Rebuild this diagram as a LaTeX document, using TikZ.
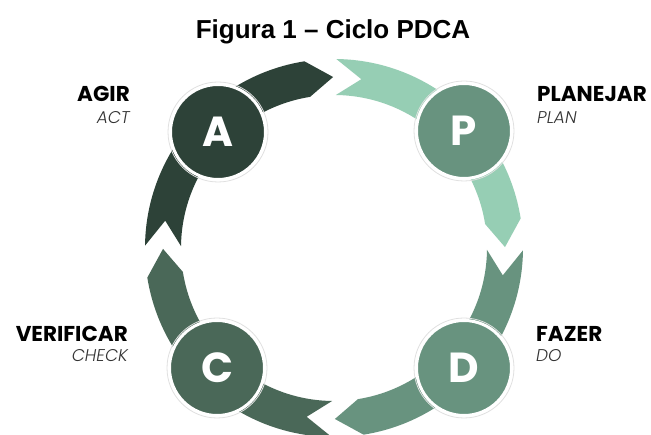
\documentclass[tikz,border=0pt]{standalone}
\usepackage{fontspec}
\setmainfont{Poppins}
\newfontfamily\titlefont{Liberation Sans}
\newfontfamily\sublightfont{Poppins Light Italic}
\definecolor{actgreen}{HTML}{2D4238}
\definecolor{checkgreen}{HTML}{4A6858}
\definecolor{dogreen}{HTML}{68937F}
\definecolor{plangreen}{HTML}{96CEB4}
\definecolor{subgray}{HTML}{333333}
% one ring segment running clockwise from gap #1 to gap #2 (degrees)
\newcommand\pdcaarrow[3]{%
  \fill[#3] ({#1-0.7}:189) arc[start angle={#1-0.7}, end angle={#2+9}, radius=189]
    -- ({#2+0.3}:171) -- ({#2+9}:153)
    arc[start angle={#2+9}, end angle={#1-0.7}, radius=153]
    -- ({#1-9.2}:171) -- cycle;}
\tikzset{
  stage/.style={circle, draw=white, line width=3pt, minimum size=95pt, inner sep=0pt,
    text=white, font=\bfseries\fontsize{42}{42}\selectfont},
  halo/.style={draw=black!12, line width=0.8pt},
  headlabel/.style={font=\bfseries\fontsize{21.5}{22}\selectfont, text=black, inner sep=0pt},
  sublabel/.style={font=\sublightfont\fontsize{17}{18}\selectfont, text=subgray, inner sep=0pt},
}
\begin{document}
\begin{tikzpicture}[x=1pt, y=1pt]
\useasboundingbox (0,0) rectangle (651,435);
\fill[white] (0,0) rectangle (651,435);
% title
\node[anchor=base, inner sep=0pt, font=\titlefont\bfseries\fontsize{26}{26}\selectfont]
  (title) at (333,396) {Figura 1 – Ciclo PDCA};
% ring of arrows
\begin{scope}[shift={(334,187)}]
  \pdcaarrow{180}{90}{actgreen}
  \pdcaarrow{90}{0}{plangreen}
  \pdcaarrow{0}{-90}{dogreen}
  \pdcaarrow{270}{180}{checkgreen}
\end{scope}
% stage discs
\foreach \p/\c in {{218,303}/A, {464,304}/P, {217,67}/C, {464,67}/D}
  \draw[halo] (\p) circle[radius=50];
\node[stage, fill=actgreen] (A) at (218,303) {A};
\node[stage, fill=dogreen] (P) at (464,304) {P};
\node[stage, fill=checkgreen] (C) at (217,67) {C};
\node[stage, fill=dogreen] (D) at (464,67) {D};
% labels
\node[headlabel, anchor=base east] (agir) at (130,333) {AGIR};
\node[sublabel, anchor=base east] (act) at (130,311) {ACT};
\node[headlabel, anchor=base west] (planejar) at (537,333) {PLANEJAR};
\node[sublabel, anchor=base west] (plan) at (537,311) {PLAN};
\node[headlabel, anchor=base east] (verificar) at (128,93) {VERIFICAR};
\node[sublabel, anchor=base east] (check) at (128,73) {CHECK};
\node[headlabel, anchor=base west] (fazer) at (536,93) {FAZER};
\node[sublabel, anchor=base west] (do) at (536,73) {DO};
\end{tikzpicture}
\end{document}
